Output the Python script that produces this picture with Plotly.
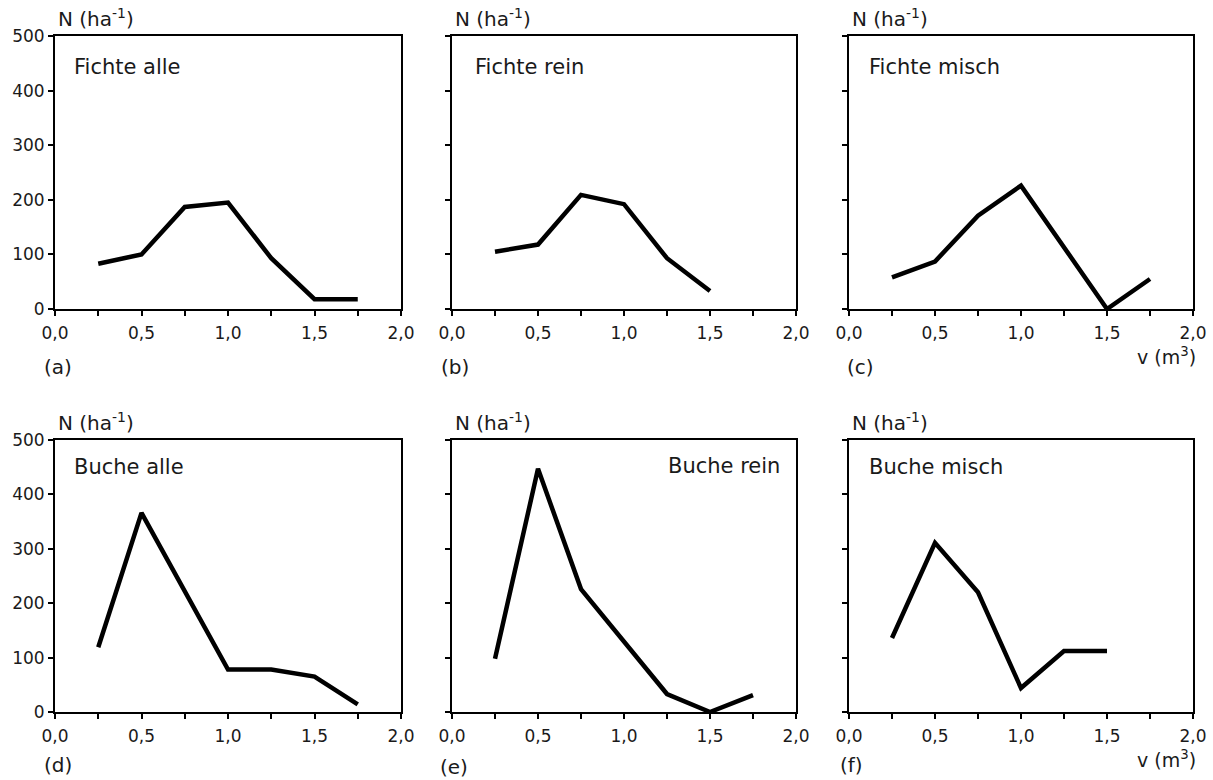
import plotly.graph_objects as go

# Volume classes (m³) and stem numbers per hectare for each stand type
volume_classes = [0.25, 0.5, 0.75, 1.0, 1.25, 1.5, 1.75]

fichte_alle = [83, 100, 187, 195, 93, 18, 18]
fichte_rein = [105, 118, 209, 192, 93, 33, None]
fichte_misch = [58, 87, 171, 226, None, 0, 55]
buche_alle = [119, 366, None, 78, 78, 65, 14]
buche_rein = [98, 447, 226, None, 33, 0, 31]
buche_misch = [136, 311, 220, 44, 112, 112, None]

panel_series = [fichte_alle, fichte_rein, fichte_misch,
                buche_alle, buche_rein, buche_misch]
panel_names = ["Fichte alle", "Fichte rein", "Fichte misch",
               "Buche alle", "Buche rein", "Buche misch"]
panel_letters = ["(a)", "(b)", "(c)", "(d)", "(e)", "(f)"]

x_ticks = [0.0, 0.5, 1.0, 1.5, 2.0]
y_ticks = [0, 100, 200, 300, 400, 500]

W, H = 1213, 780
FONT = "DejaVu Sans"
INK = "#1a1a1a"

# Panel frames in pixels (left, right, top, bottom)
col_px = [(55, 401), (452, 796), (849, 1193)]
row_px = [(36, 309), (440, 712)]

fig = go.Figure()

name_pos = [(0.049, 0.885, "left"), (0.061, 0.885, "left"), (0.052, 0.885, "left"),
            (0.049, 0.900, "left"), (0.959, 0.905, "right"), (0.052, 0.900, "left")]
letter_px = [(42, 367), (439, 367), (845, 367), (42, 765), (438, 767), (838, 765)]

annotations = []
for i, ys in enumerate(panel_series):
    r, c = divmod(i, 3)
    n = i + 1
    xa = "x" if n == 1 else f"x{n}"
    ya = "y" if n == 1 else f"y{n}"
    xl, xr = col_px[c]
    yt, yb = row_px[r]

    fig.add_trace(go.Scatter(
        x=volume_classes, y=ys, mode="lines", connectgaps=True,
        line=dict(color="black", width=4.5),
        xaxis=xa, yaxis=ya, showlegend=False, hoverinfo="skip",
    ))

    axis_common = dict(
        showline=True, linecolor="black", linewidth=2, mirror=True,
        showgrid=False, zeroline=False, ticks="outside", ticklen=5,
        tickwidth=1.5, tickcolor="black", automargin=False,
        tickfont=dict(family=FONT, size=17, color=INK),
    )
    fig.update_layout(**{
        ("xaxis" if n == 1 else f"xaxis{n}"): dict(
            axis_common, domain=[xl / W, xr / W], range=[0, 2],
            tickvals=x_ticks, tickformat=".1f", anchor=ya,
            ticklabelstandoff=3,
            minor=dict(dtick=0.25, ticks="outside", ticklen=5,
                       tickwidth=1.5, tickcolor="black"),
        ),
        ("yaxis" if n == 1 else f"yaxis{n}"): dict(
            axis_common, domain=[1 - yb / H, 1 - yt / H], range=[0, 500],
            tickvals=y_ticks, showticklabels=(c == 0), anchor=xa,
        ),
    })

    # y-axis unit above each panel
    annotations.append(dict(
        text="N (ha<sup>-1</sup>)", xref="paper", yref="paper",
        x=(xl + 1) / W, y=1 - (yt - 18) / H, xanchor="left", yanchor="middle",
        showarrow=False, font=dict(family=FONT, size=20, color=INK),
    ))
    # stand-type label inside the frame
    nx, ny, anc = name_pos[i]
    annotations.append(dict(
        text=panel_names[i], xref=f"{xa} domain", yref=f"{ya} domain",
        x=nx, y=ny, xanchor=anc, yanchor="middle", showarrow=False,
        font=dict(family=FONT, size=21, color=INK),
    ))
    # panel letter
    lx, ly = letter_px[i]
    annotations.append(dict(
        text=panel_letters[i], xref="paper", yref="paper",
        x=lx / W, y=1 - ly / H, xanchor="left", yanchor="middle",
        showarrow=False, font=dict(family=FONT, size=20, color=INK),
    ))

# x-axis unit at the right of each row
for vy in (356, 759):
    annotations.append(dict(
        text="v (m<sup>3</sup>)", xref="paper", yref="paper",
        x=1198 / W, y=1 - vy / H, xanchor="right", yanchor="middle",
        showarrow=False, font=dict(family=FONT, size=19, color=INK),
    ))

fig.update_layout(
    template="none",
    width=W, height=H, margin=dict(l=0, r=0, t=0, b=0, autoexpand=False),
    paper_bgcolor="white", plot_bgcolor="white",
    separators=",.", annotations=annotations, showlegend=False,
)

fig.write_html("out.html")
